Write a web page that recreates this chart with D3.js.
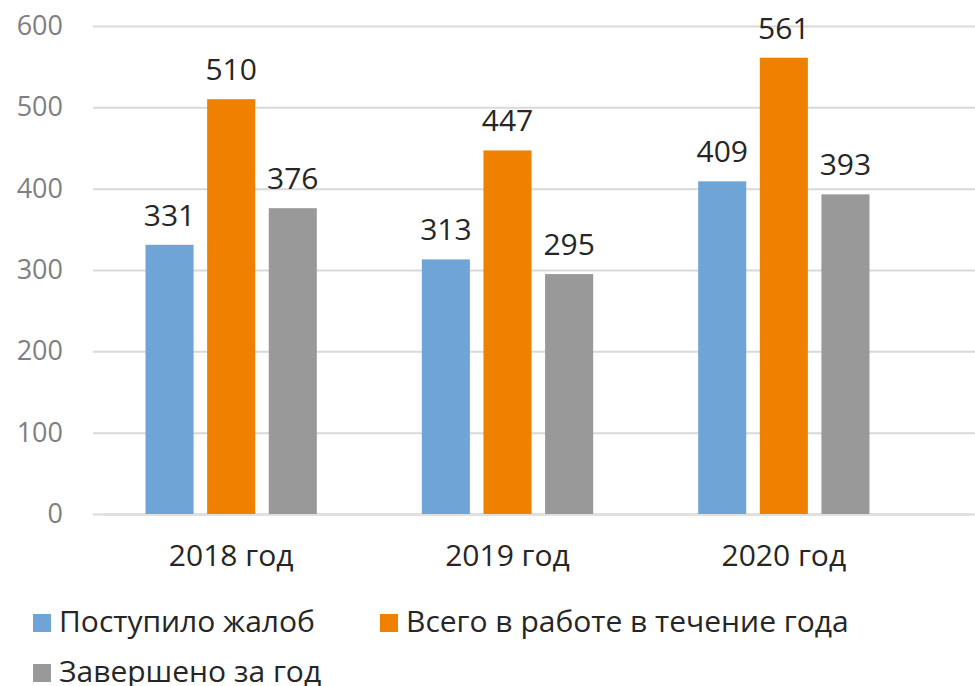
<!DOCTYPE html>
<html>
<head>
<meta charset="utf-8">
<script src="https://cdn.jsdelivr.net/npm/d3@7"></script>
<style>
  body { margin: 0; background: #fff; }
  text { font-family: "Open Sans", "Noto Sans", sans-serif; }
</style>
</head>
<body>
<div id="viz"></div>
<script>
const years = ["2018 год", "2019 год", "2020 год"];
const seriesNames = ["Поступило жалоб", "Всего в работе в течение года", "Завершено за год"];
const received = [331, 313, 409];
const inWork = [510, 447, 561];
const completed = [376, 295, 393];
const yTicks = [0, 100, 200, 300, 400, 500, 600];
const colors = ["#6FA4D6", "#F08000", "#999999"];

const seriesValues = [received, inWork, completed];

const width = 975, height = 686;

const svg = d3.select("#viz")
              .append("svg")
              .attr("width", width)
              .attr("height", height);

const x0 = d3.scaleBand()
             .domain(years)
             .range([93, 922])
             .paddingInner(0.38)
             .paddingOuter(0.19);

const x1 = d3.scaleBand()
             .domain(d3.range(seriesNames.length))
             .range([0, x0.bandwidth()])
             .paddingInner(0.22);

const y = d3.scaleLinear()
            .domain([0, 600])
            .range([514, 26]);

// gridlines + y labels
const yAxis = d3.axisLeft(y)
                .tickValues(yTicks)
                .tickSize(-(975 - 93))
                .tickPadding(30);
const gy = svg.append("g")
              .attr("transform", "translate(93,0)")
              .call(yAxis);
gy.select(".domain").remove();
gy.selectAll(".tick line")
  .attr("stroke", "#d9d9d9")
  .attr("stroke-width", 2);
gy.selectAll(".tick text")
  .attr("fill", "#7f7f7f")
  .style("font-size", "27px");

// bottom axis
const xAxis = d3.axisBottom(x0).tickSize(0).tickPadding(31);
const gx = svg.append("g")
              .attr("transform", "translate(0,514)")
              .call(xAxis);
gx.select(".domain")
  .attr("d", "M104,0.5H970")
  .attr("stroke", "#e0e0e0")
  .attr("stroke-width", 3);
gx.selectAll(".tick text")
  .attr("fill", "#262626")
  .style("font-size", "30px");

// bars
const groups = svg.append("g")
                  .selectAll("g")
                  .data(years)
                  .join("g")
                  .attr("transform", d => `translate(${x0(d)},0)`);

groups.selectAll("rect")
      .data((d, i) => seriesValues.map((vals, s) => ({ s: s, v: vals[i] })))
      .join("rect")
      .attr("x", d => x1(d.s))
      .attr("y", d => y(d.v))
      .attr("width", x1.bandwidth())
      .attr("height", d => y(0) - y(d.v))
      .attr("fill", d => colors[d.s]);

groups.selectAll("text.val")
      .data((d, i) => seriesValues.map((vals, s) => ({ s: s, v: vals[i] })))
      .join("text")
      .attr("class", "val")
      .attr("x", d => x1(d.s) + x1.bandwidth() / 2)
      .attr("y", d => y(d.v) - 19)
      .attr("text-anchor", "middle")
      .attr("fill", "#262626")
      .style("font-size", "30px")
      .text(d => d.v);

// legend
const legendPos = [[33, 614], [380, 614], [33, 664]];
const legend = svg.append("g")
                  .selectAll("g")
                  .data(seriesNames)
                  .join("g")
                  .attr("transform", (d, i) => `translate(${legendPos[i][0]},${legendPos[i][1]})`);
legend.append("rect")
      .attr("width", 18)
      .attr("height", 18)
      .attr("fill", (d, i) => colors[i]);
legend.append("text")
      .attr("x", 26)
      .attr("y", 18)
      .attr("fill", "#262626")
      .style("font-size", "30px")
      .text(d => d);
</script>
</body>
</html>
